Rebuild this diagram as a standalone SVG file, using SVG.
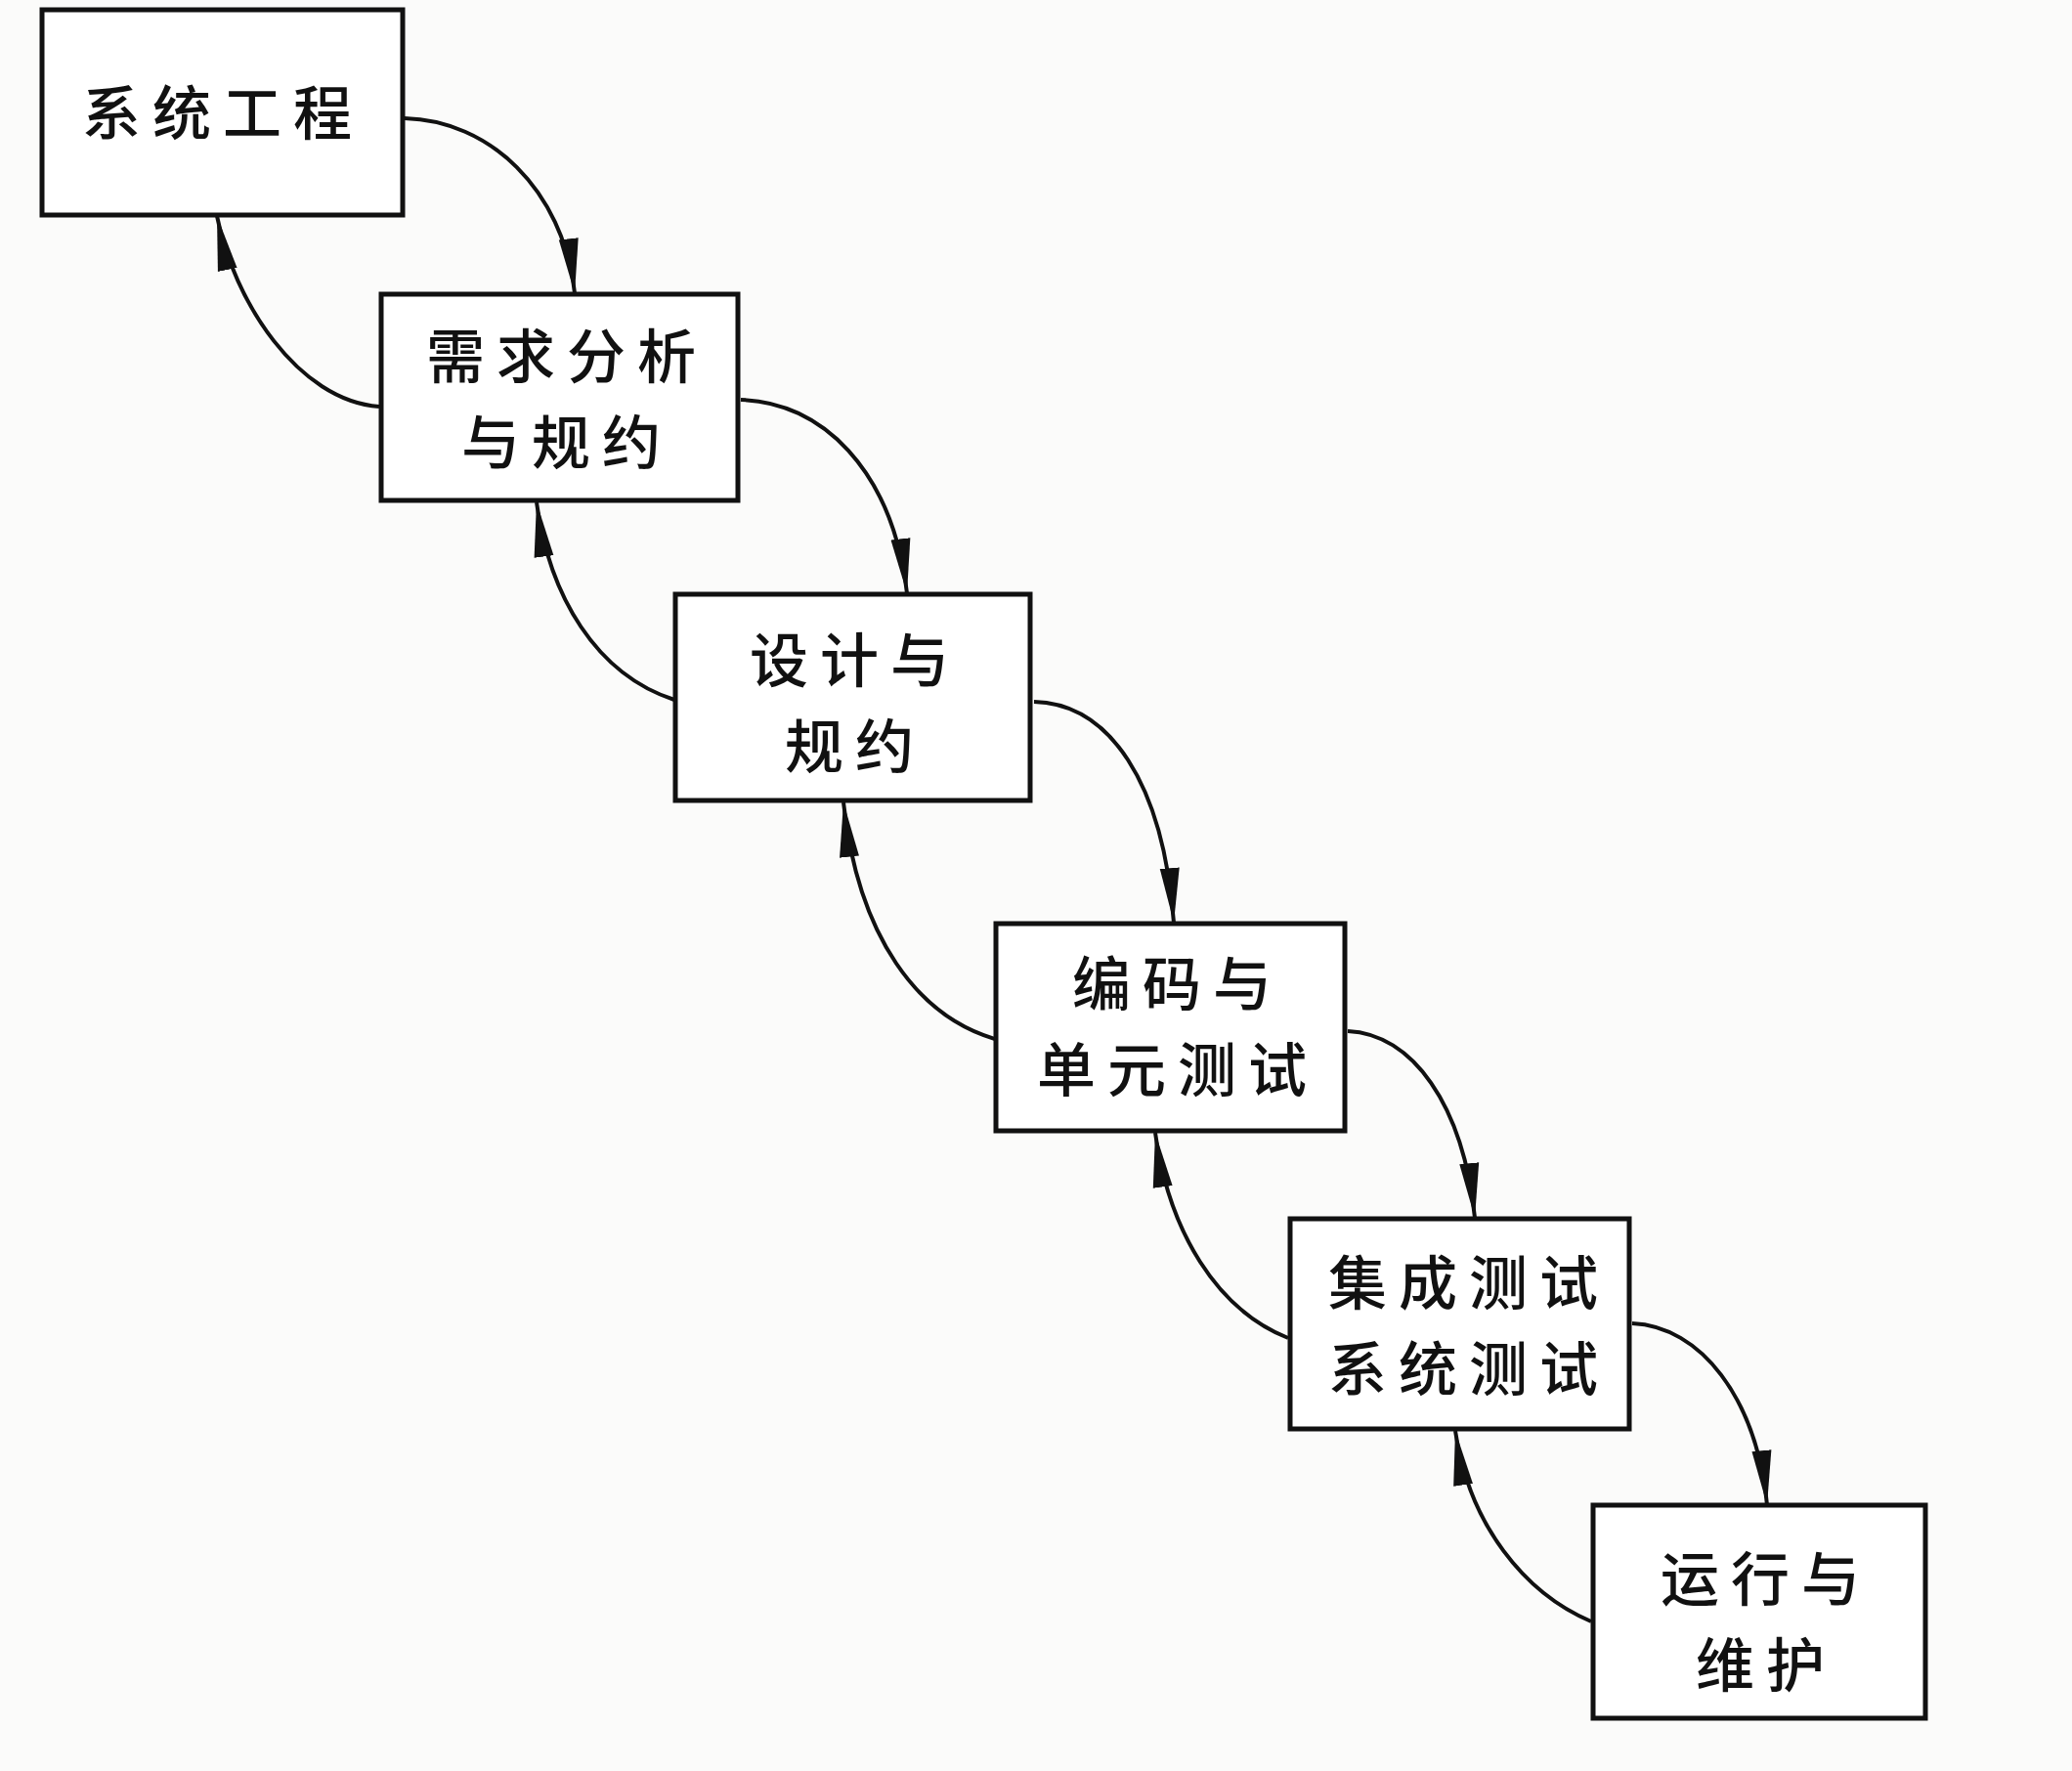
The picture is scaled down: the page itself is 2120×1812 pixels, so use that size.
<svg xmlns="http://www.w3.org/2000/svg" width="2120" height="1812" viewBox="0 0 2120 1812">
<style>
.box{fill:#ffffff;stroke:#111;stroke-width:5}
.lbl{font-family:"Noto Sans CJK SC","Noto Sans",sans-serif;font-size:60px;font-weight:500;letter-spacing:12px;fill:#111;text-anchor:middle}
.con{fill:none;stroke:#111;stroke-width:4;marker-end:url(#ah)}
</style>
<defs>
<marker id="ah" viewBox="0 0 56 22" refX="56" refY="11" markerWidth="56" markerHeight="22" markerUnits="userSpaceOnUse" orient="auto">
<path d="M0,1 L56,11 L0,21 Z" fill="#111"/>
</marker>
</defs>
<rect width="2120" height="1812" fill="#fbfbfa"/>
<g id="connectors">
<path class="con" d="M414,121 C500,123 576,193 588,300"/>
<path class="con" d="M758,409 C840,411 913,480 928,607"/>
<path class="con" d="M1058,718 C1135,720 1190,800 1201,944"/>
<path class="con" d="M1379,1055 C1445,1058 1497,1130 1509,1246"/>
<path class="con" d="M1670,1354 C1740,1357 1797,1430 1808,1540"/>
<path class="con" d="M388,416 C305,410 239,308 222,221"/>
<path class="con" d="M690,716 C610,690 562,610 549,514"/>
<path class="con" d="M1018,1063 C940,1040 878,960 863,821"/>
<path class="con" d="M1318,1369 C1245,1340 1196,1260 1182,1159"/>
<path class="con" d="M1628,1659 C1560,1630 1503,1560 1489,1464"/>
</g>
<g id="n1">
<rect class="box" x="43" y="10" width="369" height="210"/>
<text class="lbl" x="228" y="138">系统工程</text>
</g>
<g id="n2">
<rect class="box" x="390" y="301" width="365" height="211"/>
<text class="lbl"><tspan x="580" y="387">需求分析</tspan><tspan x="580" y="475">与规约</tspan></text>
</g>
<g id="n3">
<rect class="box" x="691" y="608" width="363" height="211"/>
<text class="lbl"><tspan x="875" y="698">设计与</tspan><tspan x="875" y="786">规约</tspan></text>
</g>
<g id="n4">
<rect class="box" x="1019" y="945" width="357" height="212"/>
<text class="lbl"><tspan x="1205" y="1029">编码与</tspan><tspan x="1205" y="1117">单元测试</tspan></text>
</g>
<g id="n5">
<rect class="box" x="1320" y="1247" width="347" height="215"/>
<text class="lbl"><tspan x="1503" y="1335">集成测试</tspan><tspan x="1503" y="1423">系统测试</tspan></text>
</g>
<g id="n6">
<rect class="box" x="1630" y="1540" width="340" height="218"/>
<text class="lbl"><tspan x="1807" y="1638">运行与</tspan><tspan x="1807" y="1726">维护</tspan></text>
</g>
</svg>
